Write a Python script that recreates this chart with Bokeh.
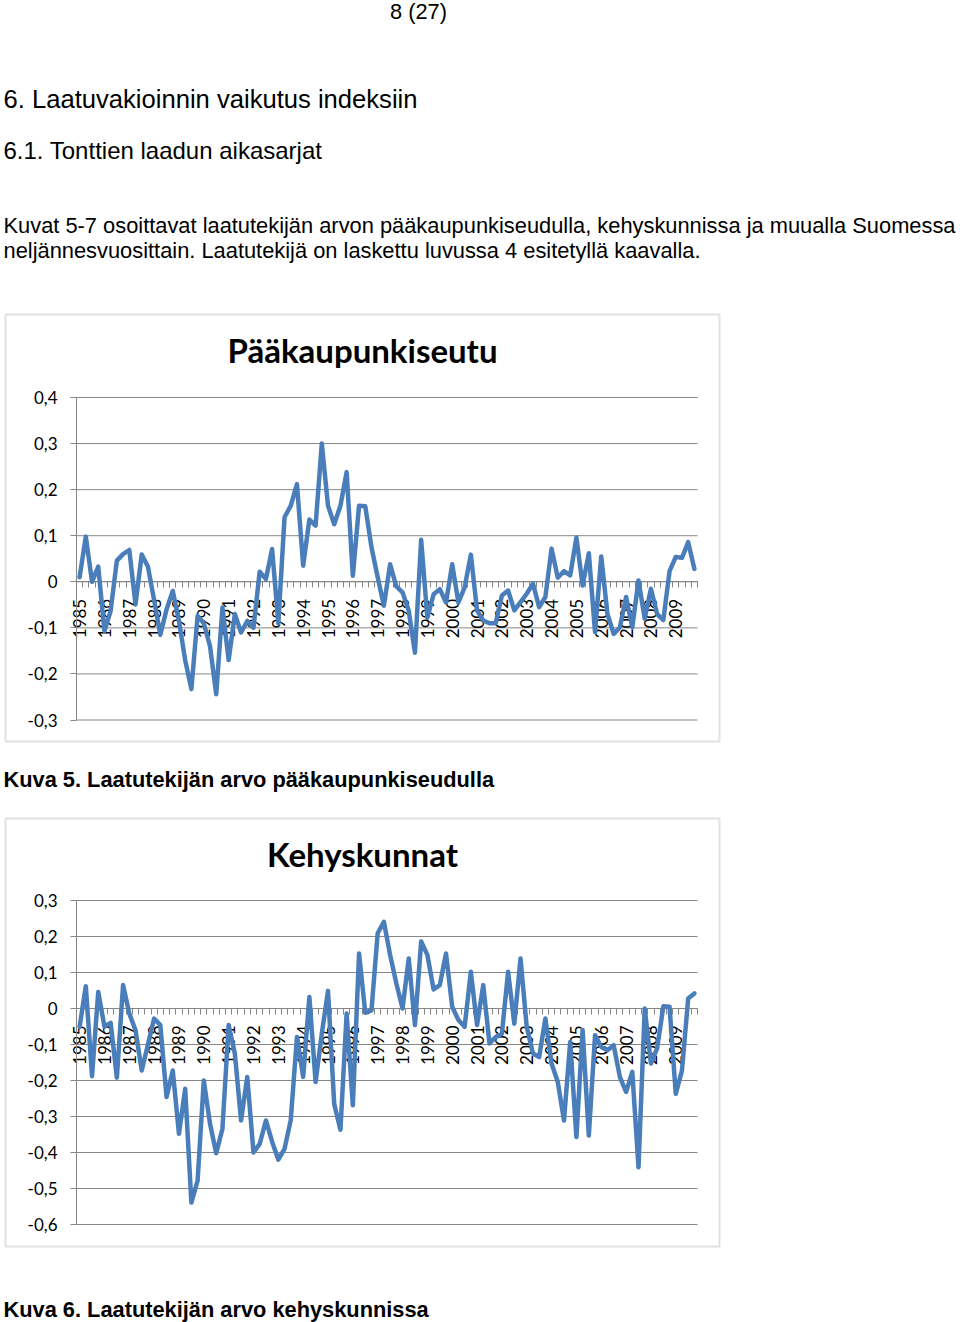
import math
from bokeh.plotting import figure
from bokeh.models import (Range1d, FixedTicker, LinearAxis, BoxAnnotation,
                          CustomJSTickFormatter)
from bokeh.layouts import column
from bokeh.core.properties import value
from bokeh.embed import file_html
from bokeh.resources import INLINE

# ---------------- data ----------------
years = [str(y) for y in range(1985, 2010)]
quarters = list(range(100))  # 1985Q1 ... 2009Q4

paakaupunkiseutu = [
    0.010, 0.098, 0.000, 0.033, -0.107, -0.063, 0.046, 0.060, 0.069, -0.049,
    0.059, 0.033, -0.040, -0.115, -0.060, -0.020, -0.085, -0.170, -0.233, -0.074,
    -0.090, -0.140, -0.244, -0.056, -0.170, -0.070, -0.110, -0.085, -0.100, 0.022,
    0.006, 0.071, -0.090, 0.140, 0.165, 0.212, 0.035, 0.135, 0.122, 0.300,
    0.165, 0.125, 0.165, 0.238, 0.013, 0.165, 0.164, 0.075, 0.010, -0.052,
    0.038, -0.010, -0.023, -0.063, -0.154, 0.091, -0.078, -0.027, -0.016, -0.045,
    0.038, -0.045, -0.012, 0.059, -0.062, -0.084, -0.090, -0.090, -0.030, -0.019,
    -0.062, -0.044, -0.026, -0.004, -0.055, -0.033, 0.072, 0.009, 0.023, 0.014,
    0.096, -0.008, 0.062, -0.109, 0.055, -0.070, -0.113, -0.099, -0.033, -0.099,
    0.003, -0.080, -0.015, -0.070, -0.083, 0.023, 0.054, 0.052, 0.086, 0.028,
]

kehyskunnat = [
    -0.051, 0.062, -0.188, 0.046, -0.050, -0.040, -0.192, 0.065, -0.014, -0.060,
    -0.172, -0.100, -0.028, -0.046, -0.246, -0.172, -0.348, -0.223, -0.539, -0.478,
    -0.200, -0.320, -0.402, -0.334, -0.046, -0.125, -0.311, -0.190, -0.400, -0.376,
    -0.311, -0.370, -0.420, -0.390, -0.310, -0.079, -0.190, 0.032, -0.204, -0.070,
    0.049, -0.265, -0.337, -0.014, -0.269, 0.153, -0.012, -0.005, 0.209, 0.241,
    0.149, 0.070, 0.000, 0.139, -0.046, 0.186, 0.149, 0.053, 0.065, 0.153,
    0.005, -0.032, -0.051, 0.102, -0.046, 0.065, -0.097, -0.079, -0.070, 0.102,
    -0.042, 0.139, -0.051, -0.125, -0.135, -0.028, -0.153, -0.204, -0.311, -0.093,
    -0.357, -0.060, -0.353, -0.074, -0.107, -0.116, -0.102, -0.190, -0.232, -0.176,
    -0.441, 0.000, -0.153, -0.111, 0.006, 0.005, -0.237, -0.172, 0.028, 0.042,
]

yticks1 = [-0.3, -0.2, -0.1, 0, 0.1, 0.2, 0.3, 0.4]
yticks2 = [-0.6, -0.5, -0.4, -0.3, -0.2, -0.1, 0, 0.1, 0.2, 0.3]

# ---------------- styling ----------------
W = 960
GRID = "#868686"
LINE = "#4A7EBB"
BOX = "#9a9a9a"
PAGE_FONT = "Liberation Sans"
CHART_FONT = "Lato"
AREA_L, AREA_R = 76, 697          # plot area, page pixels
BOX_L, BOX_R = 5, 719             # chart frame box, page pixels


def text_fig(height, items):
    p = figure(width=W, height=height, x_range=Range1d(0, W), y_range=Range1d(height, 0),
               output_backend="svg", toolbar_location=None, tools="",
               x_axis_type=None, y_axis_type=None, min_border=0)
    p.outline_line_color = None
    for x, y, txt, size, style, align in items:
        p.text(x=[x], y=[y], text=[txt], text_font=value(PAGE_FONT),
               text_font_size=size, text_font_style=style, text_align=align,
               text_baseline="middle", text_color="#000000")
    return p


def chart(page_top, height, area_top, area_bottom, vmin, vmax, yticks, data, title,
          box_top, box_bottom, title_y):
    n = len(quarters)
    T = area_top - page_top
    B = area_bottom - page_top
    ppu_y = (B - T) / (vmax - vmin)
    ppu_x = (AREA_R - AREA_L) / n
    x0 = -0.5 - AREA_L / ppu_x
    x1 = n - 0.5 + (W - AREA_R) / ppu_x
    y1 = vmax + T / ppu_y
    y0 = vmin - (height - B) / ppu_y

    def dx(px):
        return x0 + px / ppu_x

    def dy(py):
        return y1 - (py - page_top) / ppu_y

    p = figure(width=W, height=height, x_range=Range1d(x0, x1), y_range=Range1d(y0, y1),
               output_backend="svg", toolbar_location=None, tools="",
               x_axis_type=None, y_axis_type=None, min_border=0)
    p.outline_line_color = None
    p.background_fill_color = "white"

    # frame box of the chart object
    p.add_layout(BoxAnnotation(left=dx(BOX_L), right=dx(BOX_R), top=dy(box_top),
                               bottom=dy(box_bottom), fill_color=None, fill_alpha=0,
                               line_color=BOX, line_width=2, level="underlay"))

    # horizontal gridlines over the plot area
    p.segment(x0=[-0.5] * len(yticks), x1=[n - 0.5] * len(yticks), y0=yticks, y1=yticks,
              line_color=GRID, line_width=1, level="underlay")

    # value axis
    ya = LinearAxis(fixed_location=-0.5, bounds=(vmin, vmax),
                    ticker=FixedTicker(ticks=yticks, minor_ticks=[]),
                    formatter=CustomJSTickFormatter(
                        code="return Math.abs(tick) < 1e-9 ? '0' : tick.toFixed(1).replace('.', ',');"),
                    axis_line_color=GRID, major_tick_line_color=GRID,
                    major_tick_in=0, major_tick_out=6, minor_tick_line_color=None,
                    major_label_standoff=13,
                    major_label_text_font=CHART_FONT,
                    major_label_text_font_size="17px",
                    major_label_text_color="#000000")
    p.add_layout(ya, "left")

    # category axis crossing at zero
    xa = LinearAxis(fixed_location=0, bounds=(-0.5, n - 0.5),
                    ticker=FixedTicker(ticks=list(range(0, n, 4)),
                                       minor_ticks=[i - 0.5 for i in range(n + 1)]),
                    major_label_overrides={i * 4: yr for i, yr in enumerate(years)},
                    major_label_orientation=math.pi / 2,
                    major_tick_in=0, major_tick_out=0,
                    minor_tick_in=0, minor_tick_out=6,
                    minor_tick_line_color=GRID, axis_line_color=GRID,
                    major_label_standoff=11,
                    major_label_text_font=CHART_FONT,
                    major_label_text_font_size="17px",
                    major_label_text_color="#000000")
    xa.level = "underlay"
    p.add_layout(xa, "below")

    p.line(x=quarters, y=data, line_color=LINE, line_width=4.5, line_join="round",
           line_cap="round")

    p.text(x=[dx((BOX_L + BOX_R) / 2)], y=[dy(title_y)], text=[title],
           text_font=value(CHART_FONT), text_font_style="bold", text_font_size="33px",
           text_align="center", text_baseline="middle", text_color="#000000")
    return p


top = text_fig(308, [
    (418, 11, "8 (27)", "21.8px", "normal", "center"),
    (3, 98, "6. Laatuvakioinnin vaikutus indeksiin", "25.6px", "normal", "left"),
    (3, 149.5, "6.1. Tonttien laadun aikasarjat", "24px", "normal", "left"),
    (3, 225, "Kuvat 5-7 osoittavat laatutekijän arvon pääkaupunkiseudulla, kehyskunnissa ja muualla Suomessa",
     "21.85px", "normal", "left"),
    (3, 250, "neljännesvuosittain. Laatutekijä on laskettu luvussa 4 esitetyllä kaavalla.",
     "21.85px", "normal", "left"),
])

c1 = chart(308, 439, 397, 719.5, -0.3, 0.4, yticks1, paakaupunkiseutu, "Pääkaupunkiseutu",
           314, 741, 349.5)

mid = text_fig(65, [
    (3, 32, "Kuva 5. Laatutekijän arvo pääkaupunkiseudulla", "21.8px", "bold", "left"),
])

c2 = chart(812, 440, 900, 1224, -0.6, 0.3, yticks2, kehyskunnat, "Kehyskunnat",
           818, 1246, 853.5)

bottom = text_fig(70, [
    (3, 57, "Kuva 6. Laatutekijän arvo kehyskunnissa", "21.8px", "bold", "left"),
])

page = column(top, c1, mid, c2, bottom, spacing=0)

open("out.html", "w").write(file_html(page, INLINE))
